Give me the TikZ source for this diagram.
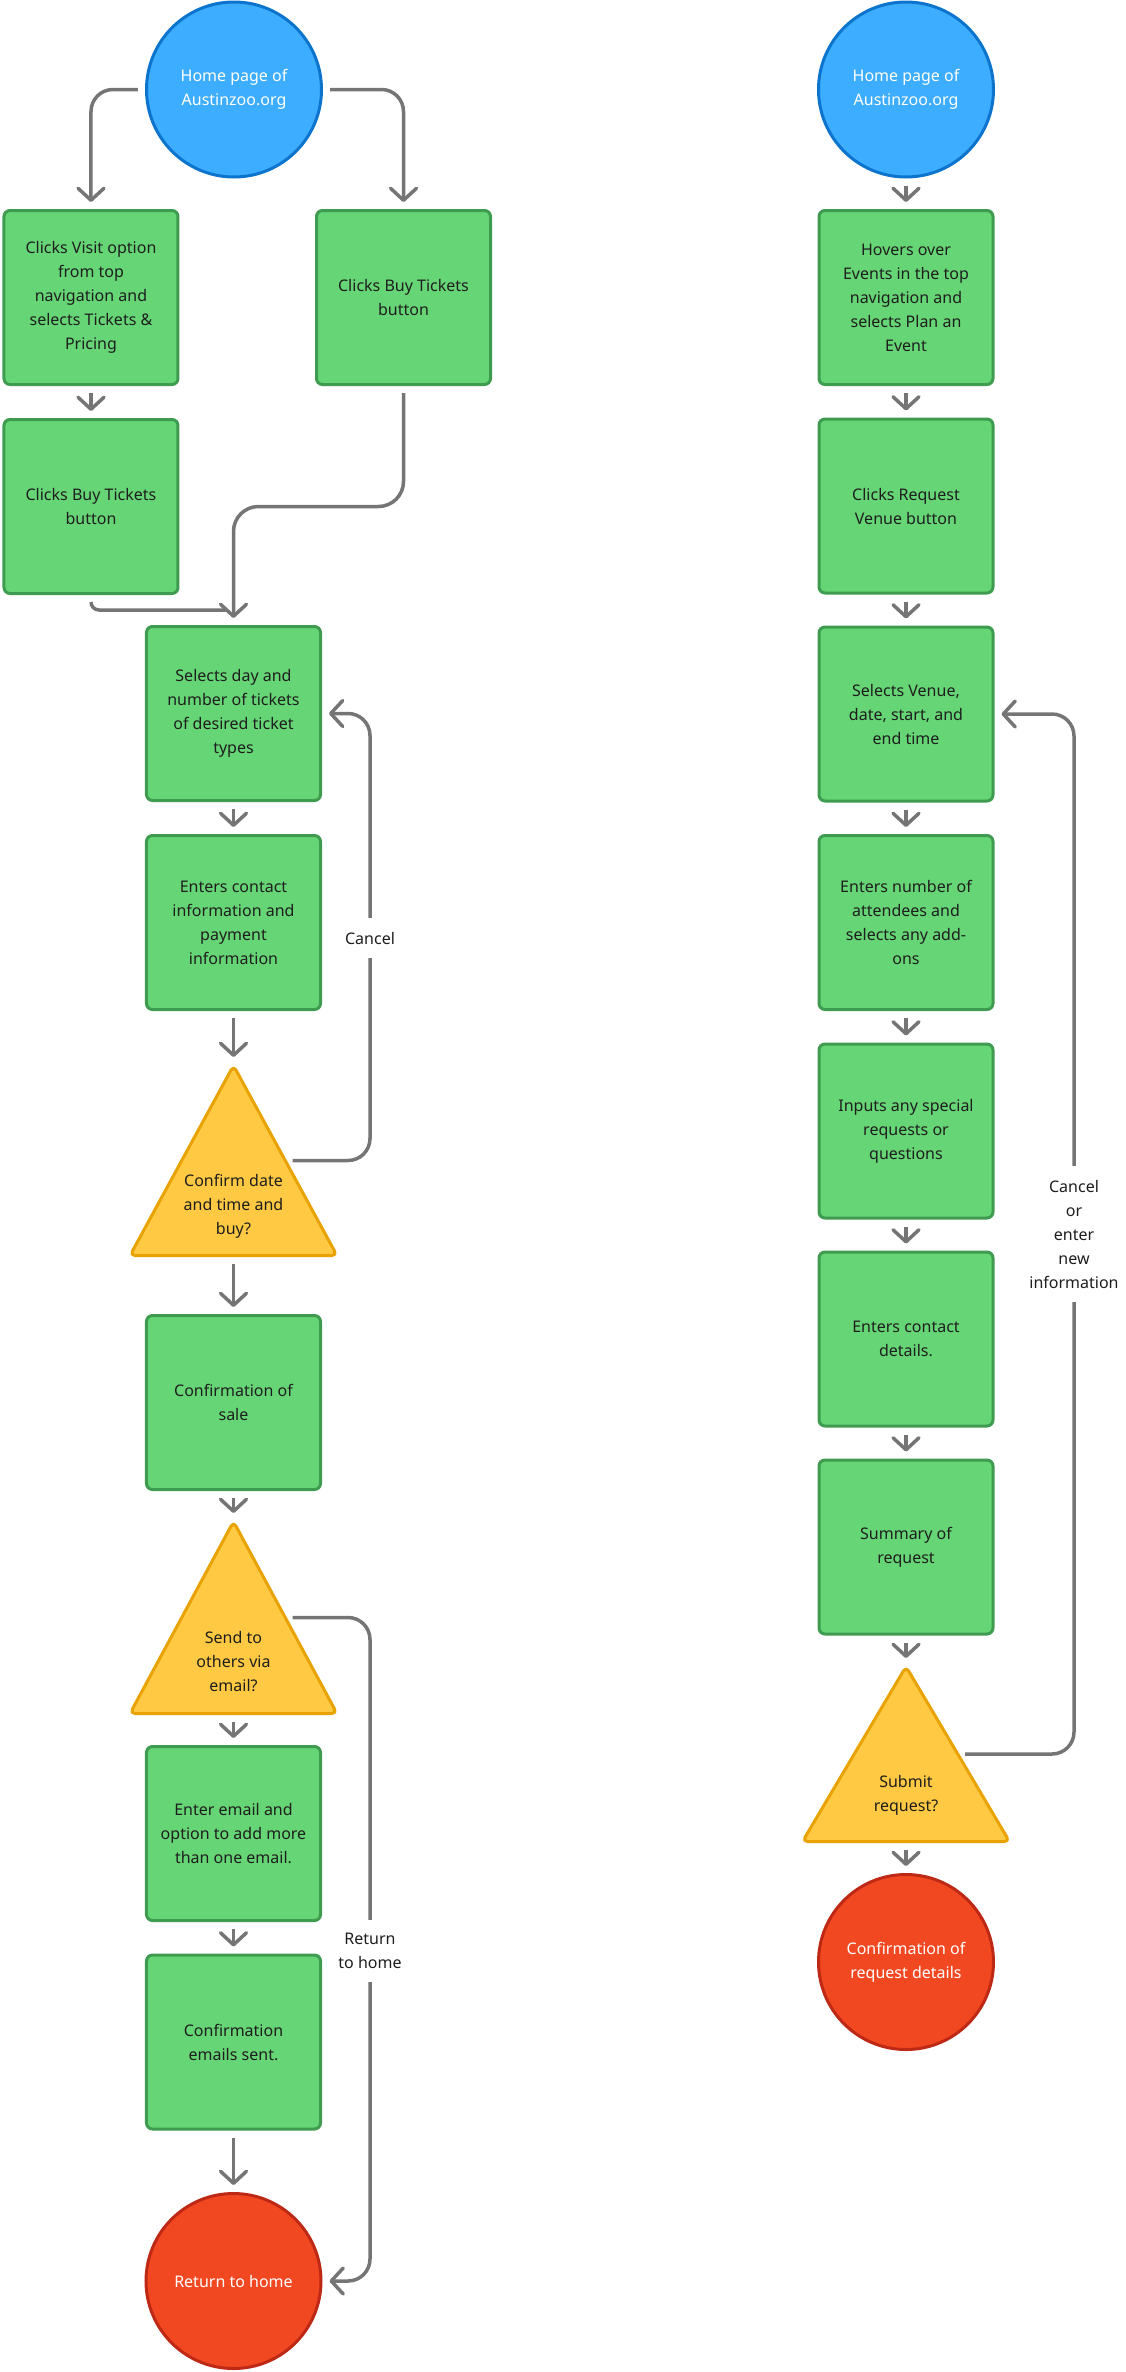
\documentclass[tikz,border=0pt]{standalone}
\usepackage{fontspec}
\setmainfont{Noto Sans}
\usetikzlibrary{arrows.meta,positioning}

\definecolor{boxfill}{HTML}{66D575}
\definecolor{boxline}{HTML}{3E9B4F}
\definecolor{homefill}{HTML}{3DADFF}
\definecolor{homeline}{HTML}{0D74CE}
\definecolor{askfill}{HTML}{FFC943}
\definecolor{askline}{HTML}{E8A302}
\definecolor{endfill}{HTML}{F24822}
\definecolor{endline}{HTML}{BD2915}
\definecolor{flowgray}{HTML}{757575}
\definecolor{inkdark}{HTML}{1E1E1E}

\tikzset{
  box/.style={draw=boxline, fill=boxfill, line width=3pt, rounded corners=6pt,
    minimum width=174pt, minimum height=174pt, inner sep=0pt, align=center,
    text=inkdark, font=\fontsize{16}{24}\selectfont},
  home/.style={circle, draw=homeline, fill=homefill, line width=3pt,
    minimum size=175pt, inner sep=0pt, align=center, text=white,
    font=\fontsize{16}{24}\selectfont},
  finish/.style={circle, draw=endline, fill=endfill, line width=3pt,
    minimum size=175pt, inner sep=0pt, align=center, text=white,
    font=\fontsize{16}{24}\selectfont},
  ask/.style={draw=askline, fill=askfill, line width=3pt, rounded corners=5pt, line join=round},
  asktext/.style={align=center, inner sep=0pt, text=inkdark, font=\fontsize{16}{24}\selectfont},
  flow/.style={draw=flowgray, line width=3.5pt, ->, shorten >=7pt, shorten <=7pt},
  lbl/.style={fill=white, align=center, inner xsep=3pt, inner ysep=13.5pt,
    text=inkdark, font=\fontsize{16}{24}\selectfont}
}

\begin{document}
\begin{tikzpicture}[x=1pt, y=1pt, node distance=208.5pt,
    >={Straight Barb[length=12pt, width=26pt, round]}]
    \useasboundingbox (-234,89.5) rectangle (892,-2282.5);
    %%%%%%%%% tickets
    \node [home] (home1) {Home page of\\Austinzoo.org};
    \node [box, below of=home1, node distance=208pt, xshift=-143pt] (visit) {Clicks Visit option\\from top\\navigation and\\selects Tickets \&\\Pricing};
    \node [box, below of=home1, node distance=208pt, xshift=169.5pt] (buyb) {Clicks Buy Tickets\\button};
    \node [box, below of=visit, node distance=209pt] (buya) {Clicks Buy Tickets\\button};
    \node [box, below of=buya, node distance=207pt, xshift=142.5pt] (pick) {Selects day and\\number of tickets\\of desired ticket\\types};
    \node [box, below of=pick, node distance=209pt] (pay) {Enters contact\\information and\\payment\\information};
    \coordinate [below of=pay, node distance=238pt] (q1);
        \draw [ask] ([yshift=95pt]q1) -- ([xshift=103.5pt,yshift=-95pt]q1) -- ([xshift=-103.5pt,yshift=-95pt]q1) -- cycle;
        \node [asktext] (q1t) at ([yshift=-45.5pt]q1) {Confirm date\\and time and\\buy?};
        \coordinate (q1top) at ([yshift=96.5pt]q1);
        \coordinate (q1bot) at ([yshift=-96.5pt]q1);
        \coordinate (q1side) at ([xshift=52pt]q1);
    \node [box, below of=q1, node distance=242pt] (sale) {Confirmation of\\sale};
    \coordinate [below of=sale, node distance=215pt] (q2);
        \draw [ask] ([yshift=96pt]q2) -- ([xshift=103.5pt,yshift=-96pt]q2) -- ([xshift=-103.5pt,yshift=-96pt]q2) -- cycle;
        \node [asktext] (q2t) at ([yshift=-44.5pt]q2) {Send to\\others via\\email?};
        \coordinate (q2top) at ([yshift=97.5pt]q2);
        \coordinate (q2bot) at ([yshift=-97.5pt]q2);
        \coordinate (q2side) at ([xshift=52pt]q2);
    \node [box, below of=q2, node distance=216pt] (email) {Enter email and\\option to add more\\than one email.};
    \node [box, below of=email] (sent) {Confirmation\\emails sent.};
    \node [finish, below of=sent, node distance=239pt] (back) {Return to home};
    %%%%%%%%% events
    \node [home, right of=home1, node distance=672pt] (home2) {Home page of\\Austinzoo.org};
    \node [box, below of=home2, node distance=208pt] (hover) {Hovers over\\Events in the top\\navigation and\\selects Plan an\\Event};
    \node [box, below of=hover] (request) {Clicks Request\\Venue button};
    \node [box, below of=request, node distance=208pt] (venue) {Selects Venue,\\date, start, and\\end time};
    \node [box, below of=venue] (guests) {Enters number of\\attendees and\\selects any add-\\ons};
    \node [box, below of=guests] (special) {Inputs any special\\requests or\\questions};
    \node [box, below of=special, node distance=208pt] (contact) {Enters contact\\details.};
    \node [box, below of=contact, node distance=208pt] (summary) {Summary of\\request};
    \coordinate [below of=summary, node distance=207pt] (q3);
        \draw [ask] ([yshift=87.5pt]q3) -- ([xshift=103.5pt,yshift=-87.5pt]q3) -- ([xshift=-103.5pt,yshift=-87.5pt]q3) -- cycle;
        \node [asktext] (q3t) at ([yshift=-41pt]q3) {Submit\\request?};
        \coordinate (q3top) at ([yshift=89pt]q3);
        \coordinate (q3bot) at ([yshift=-89pt]q3);
        \coordinate (q3side) at ([xshift=52pt]q3);
    \node [finish, below of=q3, node distance=208pt] (done) {Confirmation of\\request details};
    %%%%%%%%%%
            \draw [flow, rounded corners=22pt] (home1.west) -| (visit.north);
            \draw [flow, rounded corners=22pt] (home1.east) -| (buyb.north);
            \draw [flow] (visit) -- (buya);
            \draw [flow, rounded corners=25pt] (buyb.south) |- (pick.north |- buya.center) -- (pick.north);
            \draw [flow, -, rounded corners=8pt] (buya.south) |- ([yshift=15pt]pick.north);
            \draw [flow] (pick) -- (pay);
            \draw [flow] (pay) -- (q1top);
            \draw [flow] (q1bot) -- (sale);
            \draw [flow] (sale) -- (q2top);
            \draw [flow] (q2bot) -- (email);
            \draw [flow] (email) -- (sent);
            \draw [flow] (sent) -- (back);
            \draw [flow, rounded corners=22pt] (q1side) -| ([xshift=48pt]pick.east) -- (pick.east);
            \draw [flow, rounded corners=22pt] (q2side) -| ([xshift=47.5pt]back.east) -- (back.east);
            \draw [flow] (home2) -- (hover);
            \draw [flow] (hover) -- (request);
            \draw [flow] (request) -- (venue);
            \draw [flow] (venue) -- (guests);
            \draw [flow] (guests) -- (special);
            \draw [flow] (special) -- (contact);
            \draw [flow] (contact) -- (summary);
            \draw [flow] (summary) -- (q3top);
            \draw [flow] (q3bot) -- (done);
            \draw [flow, rounded corners=22pt] (q3side) -| ([xshift=79.5pt]venue.east) -- (venue.east);
    %%%%%%%%%%
        \node [lbl] (cancel) at ([xshift=48pt, yshift=-15.5pt]pay.east) {Cancel};
        \node [lbl] (rethome) at ([xshift=48pt, yshift=91pt]sent.east) {Return\\to home};
        \node [lbl] (newinfo) at ([xshift=79.5pt, yshift=105pt]contact.east) {Cancel\\or\\enter\\new\\information};
\end{tikzpicture}
\end{document}
